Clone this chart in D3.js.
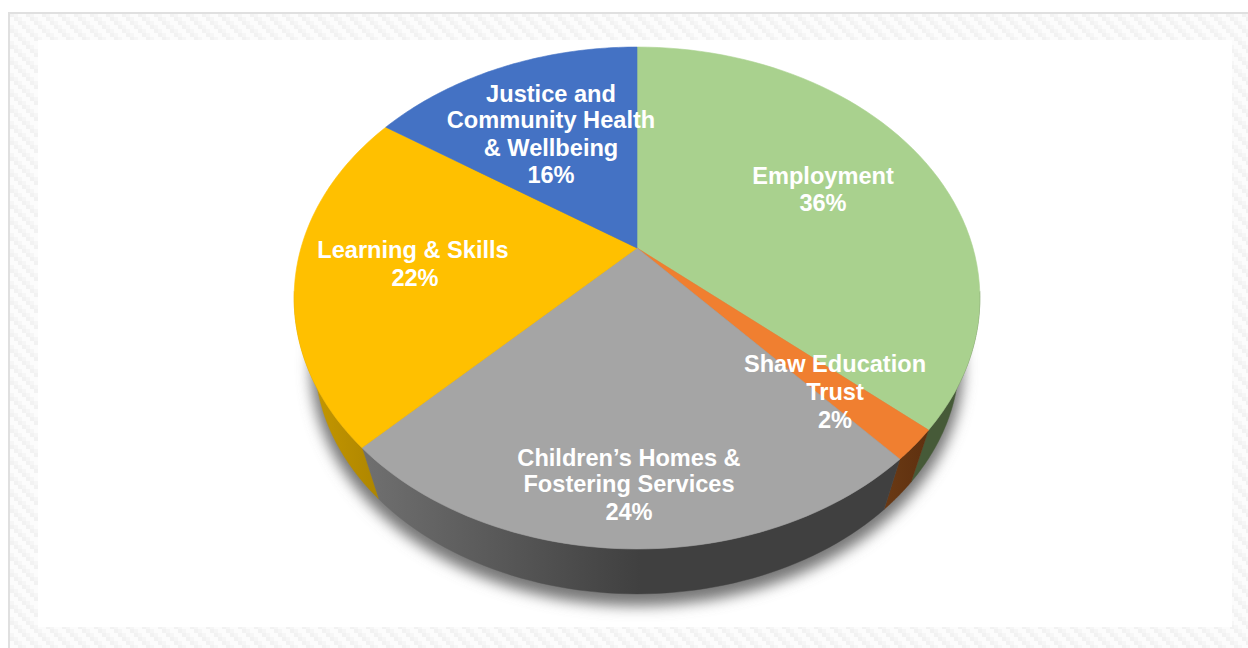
<!DOCTYPE html>
<html><head><meta charset="utf-8">
<script src="https://cdn.jsdelivr.net/npm/d3@7/dist/d3.min.js"></script>
<style>html,body{margin:0;padding:0;background:#fff;overflow:hidden}svg{display:block}</style>
</head><body><svg id="c" width="1248" height="648"></svg>
<script>
// ---- data ----
const categories = ["Employment","Shaw Education Trust","Children’s Homes & Fostering Services","Learning & Skills","Justice and Community Health & Wellbeing"];
const shares = [36.4, 2.0, 24.0, 22.0, 15.6];
const percentLabels = ["36%","2%","24%","22%","16%"];
const labelLines = [["Employment"],["Shaw Education","Trust"],["Children’s Homes &","Fostering Services"],["Learning & Skills"],["Justice and","Community Health","& Wellbeing"]];

// ---- style and layout ----
const topColors = ["#A9D18E","#F07F30","#A5A5A5","#FFC000","#4472C4"];
const sideStops = [["#465A38","#465A38"],["#6B3A14","#5E300F"],["#707070","#404040"],["#C99A00","#AD8500"],["#2A4577","#2A4577"]];
const labelAnchor = [[823,184],[835,372],[629,466],[413,258],[551,102]];
const percentShift = [0,0,0,2,0];
const lineStep = [[27],[28,28],[26,28],[28],[26,28,27]];
const apex = {x:637,y:248}, R = 336, B = 241, K = 0.1992;
const bottomScale = 0.94, bottomY = 311;
const wallFrom = 100*Math.PI/180, wallTo = 260*Math.PI/180;

const svg = d3.select("#c"), defs = svg.append("defs");

// background weave
const pat = defs.append("pattern").attr("id","weave").attr("width",16).attr("height",16)
  .attr("patternUnits","userSpaceOnUse").attr("patternTransform","translate(10 13)");
pat.append("rect").attr("width",16).attr("height",16).attr("fill","#fcfcfc");
d3.range(0,16,4).forEach(x=>d3.range(0,16,4).forEach(y=>{
  if ((x-y+16)%16<8) pat.append("rect").attr("x",x).attr("y",y).attr("width",4).attr("height",4).attr("fill",(x+y)%8===0?"#f2f2f2":"#f6f6f6");
}));
svg.append("rect").attr("x",0).attr("y",0).attr("width",1248).attr("height",648).attr("fill","#fff");
svg.append("rect").attr("x",10).attr("y",14).attr("width",1238).attr("height",634).attr("fill","url(#weave)");
svg.append("rect").attr("x",8).attr("y",12).attr("width",1240).attr("height",2).attr("fill","#e0e0e0");
svg.append("rect").attr("x",8).attr("y",12).attr("width",2).attr("height",636).attr("fill","#e0e0e0");
svg.append("rect").attr("x",38).attr("y",40).attr("width",1194).attr("height",587).attr("fill","#fff");

// projection: true disc angle -> picture
const project = a => { const u=Math.sin(a), v=-Math.cos(a), w=1-K*v; return [R*u/w, B*v/w]; };
const topPt = a => { const p=project(a); return [apex.x+p[0], apex.y+p[1]]; };
const botPt = a => { const p=project(a); return [apex.x+bottomScale*p[0], bottomY+bottomScale*p[1]]; };
const line = d3.line();
const arcs = d3.pie().sort(null).value(d=>d)(shares);
const sample = (a0,a1) => d3.range(0,61).map(i => a0+(a1-a0)*i/60);

// shadow
const blur = defs.append("filter").attr("id","soft").attr("x","-20%").attr("y","-20%").attr("width","140%").attr("height","140%");
blur.append("feGaussianBlur").attr("stdDeviation",7);
svg.append("path")
  .attr("d", line(d3.range(0,241).map(i=>i*2*Math.PI/240).map(botPt))+"Z")
  .attr("transform","translate(0 8)").attr("fill","#777").attr("stroke","#777").attr("stroke-width",8).attr("filter","url(#soft)");

// front walls only; the top disc covers the back of the solid
arcs.forEach((d,i)=>{
  const a0 = Math.max(d.startAngle,wallFrom), a1 = Math.min(d.endAngle,wallTo);
  if (a1 <= a0) return;
  const g = defs.append("linearGradient").attr("id","side"+i).attr("gradientUnits","userSpaceOnUse")
    .attr("x1",i===2?362:(i===3?300:880)).attr("x2",i===2?640:(i===3?380:930)).attr("y1",0).attr("y2",0);
  g.append("stop").attr("offset",0).attr("stop-color",sideStops[i][0]);
  g.append("stop").attr("offset",1).attr("stop-color",sideStops[i][1]);
  const as = sample(a0,a1);
  svg.append("path").attr("d", line(as.map(topPt).concat(as.slice().reverse().map(botPt)))+"Z")
    .attr("fill",`url(#side${i})`).attr("stroke",`url(#side${i})`).attr("stroke-width",0.4);
});

// top faces
svg.append("g").selectAll("path").data(arcs).join("path")
  .attr("d", d => line([[apex.x,apex.y]].concat(sample(d.startAngle,d.endAngle).map(topPt)))+"Z")
  .attr("fill",(d,i)=>topColors[i]).attr("stroke",(d,i)=>topColors[i]).attr("stroke-width",0.6);

// labels
categories.forEach((c,i)=>{
  const rows = labelLines[i].concat([percentLabels[i]]);
  let y = labelAnchor[i][1];
  rows.forEach((t,j)=>{
    svg.append("text").attr("x",labelAnchor[i][0]+(j===rows.length-1?percentShift[i]:0)).attr("y",y).attr("text-anchor","middle")
      .attr("font-family","'Liberation Sans',Arial,sans-serif").attr("font-weight",700)
      .attr("font-size",23.6).attr("fill","#fff").text(t);
    y += lineStep[i][j];
  });
});
</script></body></html>
